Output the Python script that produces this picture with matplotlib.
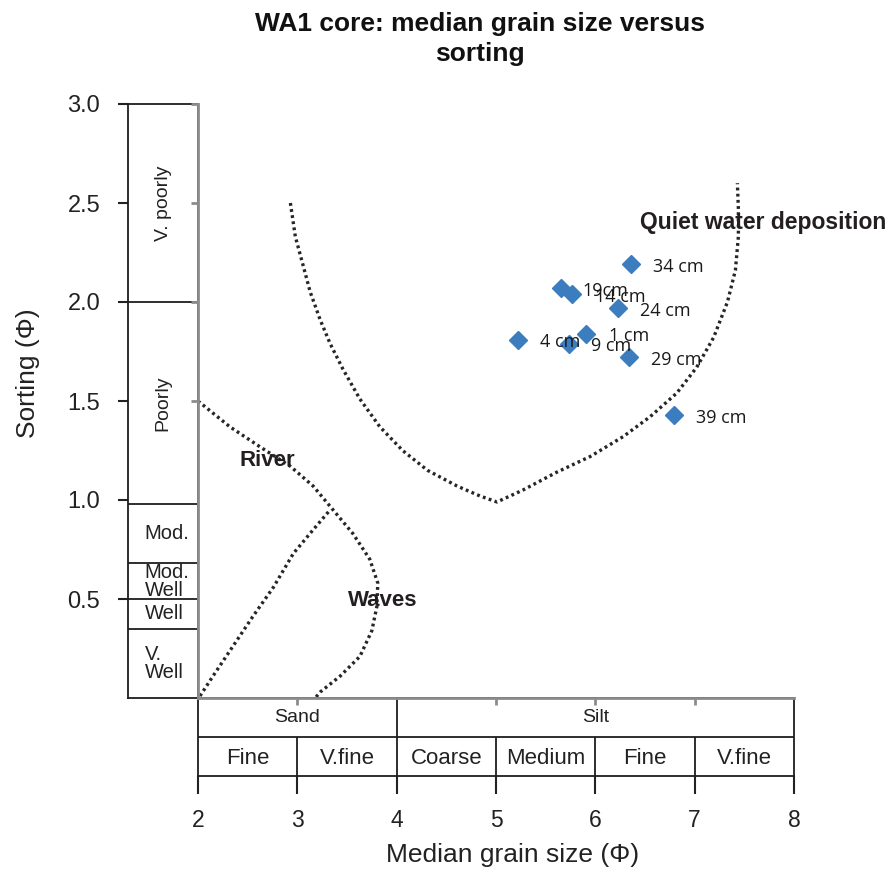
import matplotlib
matplotlib.use("Agg")
import matplotlib.pyplot as plt

plt.rcParams['font.family'] = ['Liberation Sans', 'DejaVu Sans']

# samples (median grain size, sorting), in phi units
depths = ['1 cm', '4 cm', '9 cm', '14 cm', '19cm', '24 cm', '29 cm', '34 cm', '39 cm']
median_phi = [5.91, 5.22, 5.73, 5.77, 5.65, 6.23, 6.34, 6.36, 6.79]
sorting_phi = [1.84, 1.81, 1.79, 2.04, 2.07, 1.97, 1.72, 2.19, 1.43]

# environment field boundaries
quiet_x = [2.93, 2.98, 3.05, 3.13, 3.23, 3.33, 3.46, 3.63, 3.83, 4.06, 4.31, 4.61, 4.84, 5.01,
           5.27, 5.61, 5.95, 6.28, 6.55, 6.82, 7.02, 7.19, 7.33, 7.41, 7.44, 7.44, 7.43]
quiet_y = [2.50, 2.33, 2.20, 2.05, 1.91, 1.79, 1.66, 1.51, 1.37, 1.25, 1.15, 1.07, 1.02, 0.99,
           1.05, 1.14, 1.22, 1.32, 1.42, 1.54, 1.67, 1.82, 2.00, 2.16, 2.33, 2.47, 2.60]
river_x = [2.00, 2.32, 2.62, 2.93, 3.16, 3.36, 3.56, 3.73, 3.81, 3.80, 3.75, 3.63, 3.43, 3.23, 3.18]
river_y = [1.50, 1.37, 1.27, 1.17, 1.07, 0.95, 0.83, 0.70, 0.58, 0.46, 0.34, 0.21, 0.11, 0.03, 0.0]
waves_x = [2.02, 2.15, 2.35, 2.55, 2.76, 2.96, 3.16, 3.33]
waves_y = [0.01, 0.11, 0.26, 0.41, 0.56, 0.73, 0.85, 0.95]

# sorting classes (left column)
sorting_bounds = [3.0, 2.0, 0.98, 0.68, 0.5, 0.35, 0.0]
sorting_classes = ['V. poorly', 'Poorly', 'Mod.', 'Mod.\nWell', 'Well', 'V.\nWell']

# grain size classes (bottom rows)
group_bounds = [2, 4, 8]
group_names = ['Sand', 'Silt']
class_bounds = [2, 3, 4, 5, 6, 7, 8]
class_names = ['Fine', 'V.fine', 'Coarse', 'Medium', 'Fine', 'V.fine']

W, H = 892, 874
fig = plt.figure(figsize=(W / 100, H / 100), dpi=100)

col = fig.add_axes([128 / W, 1 - 698 / H, 70 / W, 594 / H])
bot = fig.add_axes([198 / W, 1 - 776 / H, 596 / W, 78 / H])
ax = fig.add_axes([198 / W, 1 - 698 / H, 596 / W, 594 / H])
ax.patch.set_alpha(0)

line_col = '#1e1e1e'

# left column with sorting classes
col.set_xlim(0, 1)
col.set_ylim(0, 3)
col.set_xticks([])
col.set_yticks([0.5, 1.0, 1.5, 2.0, 2.5, 3.0])
col.set_yticklabels(['0.5', '1.0', '1.5', '2.0', '2.5', '3.0'])
col.tick_params(axis='y', direction='out', length=7, width=1.5, pad=13,
                labelsize=17, colors='#222222')
for s in col.spines.values():
    s.set_linewidth(1.3)
    s.set_color(line_col)
for b in sorting_bounds[1:-1]:
    col.axhline(b, color=line_col, lw=1.3)
for i, name in enumerate(sorting_classes):
    yc = (sorting_bounds[i] + sorting_bounds[i + 1]) / 2
    if i < 2:
        col.text(0.5, yc, name, rotation=90, ha='center', va='center',
                 fontsize=14, color='#222222')
    else:
        col.text(0.24, yc, name, ha='left', va='center', fontsize=14.5,
                 color='#222222', linespacing=0.95)

# bottom rows with grain size classes
bot.set_xlim(2, 8)
bot.set_ylim(0, 2)
bot.set_yticks([])
bot.set_xticks(class_bounds)
bot.tick_params(axis='x', direction='out', length=13, width=1.5, pad=11,
                labelsize=16.5, colors='#222222')
for s in bot.spines.values():
    s.set_linewidth(1.3)
    s.set_color(line_col)
bot.axhline(1, color=line_col, lw=1.3)
bot.vlines(group_bounds[1:-1], 1, 2, color=line_col, lw=1.3)
bot.vlines(class_bounds[1:-1], 0, 1, color=line_col, lw=1.3)
for i, name in enumerate(group_names):
    bot.text((group_bounds[i] + group_bounds[i + 1]) / 2, 1.5, name,
             ha='center', va='center', fontsize=14, color='#222222')
for i, name in enumerate(class_names):
    bot.text((class_bounds[i] + class_bounds[i + 1]) / 2, 0.45, name,
             ha='center', va='center', fontsize=16, color='#222222')

# main plot
ax.set_xlim(2, 8)
ax.set_ylim(0, 3)
ax.spines['top'].set_visible(False)
ax.spines['right'].set_visible(False)
for side in ['left', 'bottom']:
    ax.spines[side].set_color('#8c8c8c')
    ax.spines[side].set_linewidth(2)
ax.set_xticks([3, 5, 6, 7])
ax.set_yticks([1.5, 2.0, 2.5, 3.0])
ax.tick_params(direction='out', length=5, width=2, colors='#8c8c8c',
               labelbottom=False, labelleft=False)

dots = dict(color='#262626', lw=2.4, linestyle=(0, (0.85, 1.0)))
ax.plot(quiet_x, quiet_y, **dots)
ax.plot(river_x, river_y, **dots)
ax.plot(waves_x, waves_y, **dots)

ax.plot(median_phi, sorting_phi, linestyle='none', marker='D', ms=9.5,
        color='#3b7dbf', mec='#3b7dbf')
for d, x, y in zip(depths, median_phi, sorting_phi):
    ax.annotate(d, (x, y), xytext=(16, -2), textcoords='offset points',
                ha='left', va='center', fontsize=13, family='Open Sans',
                color='#1a1a1a')

lab = dict(fontweight='bold', color='#231f20', va='center', ha='left')
ax.text(6.45, 2.40, 'Quiet water deposition', fontsize=16.5, **lab)
ax.text(2.42, 1.20, 'River', fontsize=16, **lab)
ax.text(3.51, 0.49, 'Waves', fontsize=16, **lab)

fig.text(480 / W, 1 - 12 / H, 'WA1 core: median grain size versus\nsorting',
         ha='center', va='top', fontsize=19, fontweight='bold',
         multialignment='center', color='#111111', linespacing=1.3)
fig.text(513 / W, 1 - 855 / H, 'Median grain size (\u03a6)', ha='center',
         va='center', fontsize=19, color='#222222')
fig.text(28 / W, 1 - 373 / H, 'Sorting (\u03a6)', rotation=90, ha='center',
         va='center', fontsize=19, color='#222222')

fig.savefig('out.png', dpi=100)
